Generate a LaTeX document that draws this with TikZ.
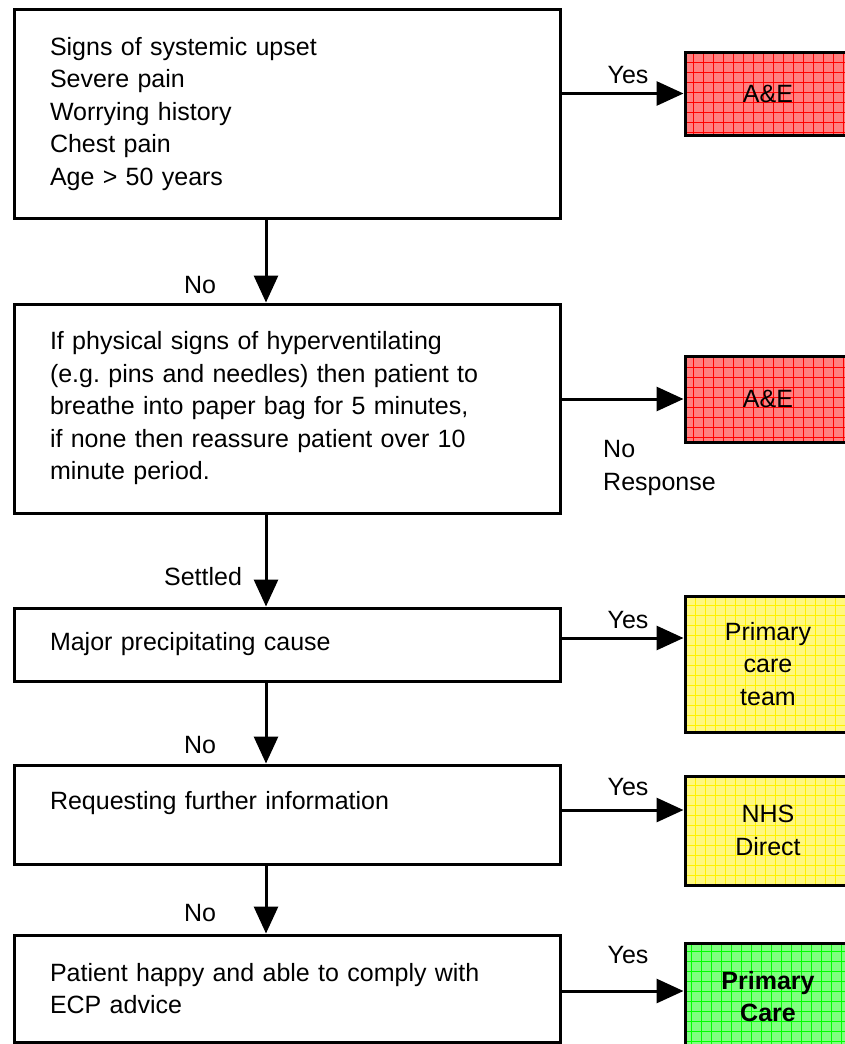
\documentclass[tikz,border=0pt]{standalone}
\usepackage{fontspec}
\setmainfont{Liberation Sans}
\usetikzlibrary{positioning, arrows.meta, calc}

\begin{document}
\begin{tikzpicture}[x=1pt, y=-1pt,
    every node/.style={font=\fontsize{25}{32.5}\selectfont},
    question/.style={rectangle, draw=black, line width=3pt, minimum width=546pt, text width=474pt, inner xsep=36pt, inner ysep=0pt, align=left},
    outcome/.style={rectangle, draw=black, line width=3pt, minimum width=166pt, inner sep=0pt, align=center, fill=#1!50,
        path picture={\draw[#1, line width=0.6pt, step=10pt] (path picture bounding box.south west) grid (path picture bounding box.north east);}},
    arrow/.style={line width=3pt, -{Triangle[length=27pt, width=24pt]}},
    lbl/.style={inner sep=0pt}
]
    \clip (0,0) rectangle (845,1044);
    % questions
    \node[question, minimum height=209pt] (upset) at (287, 114) {Signs of systemic upset\\Severe pain\\Worrying history\\Chest pain\\Age > 50 years};
    \node[question, minimum height=209pt] (hyper) at (287, 408.5) {If physical signs of hyperventilating\\(e.g.\ pins and needles) then patient to\\breathe into paper bag for 5 minutes,\\if none then reassure patient over 10\\minute period.};
    \node[question, minimum height=73pt] (cause) at (287, 644.5) {Major precipitating cause};
    \node[question, minimum height=99pt, text height=18pt, text depth=29pt] (info) at (287, 814.5) {Requesting further information};
    \node[question, minimum height=107pt] (happy) at (287, 988.5) {Patient happy and able to comply with\\ECP advice};
    % outcomes
    \node[outcome=red, minimum height=83pt] (ae1) at (768, 93.5) {A\&E};
    \node[outcome=red, minimum height=86pt] (ae2) at (768, 399) {A\&E};
    \node[outcome=yellow, minimum height=136pt] (team) at (768, 664) {Primary\\care\\team};
    \node[outcome=yellow, minimum height=109pt] (nhs) at (768, 830.5) {NHS\\Direct};
    \node[outcome=green, minimum height=107pt, font=\fontsize{25}{32.5}\selectfont\bfseries] (care) at (768, 996.5) {Primary\\Care};
    % down the chain
    \draw[arrow] ([xshift=-21pt]upset.south) -- ([xshift=-21pt]hyper.north);
    \node[lbl] (no1) at (200, 285) {No};
    \draw[arrow] ([xshift=-21pt]hyper.south) -- ([xshift=-21pt]cause.north);
    \node[lbl] (settled) at (203, 577) {Settled};
    \draw[arrow] ([xshift=-21pt]cause.south) -- ([xshift=-21pt]info.north);
    \node[lbl] (no2) at (200, 745) {No};
    \draw[arrow] ([xshift=-21pt]info.south) -- ([xshift=-21pt]happy.north);
    \node[lbl] (no3) at (200, 913) {No};
    % across to the outcomes
    \draw[arrow] (ae1.west -| upset.east) -- (ae1.west);
    \node[lbl] (yes1) at (628, 75) {Yes};
    \draw[arrow] (ae2.west -| hyper.east) -- (ae2.west);
    \node[lbl, anchor=west, align=left] (noresp) at (603, 468) {No\\Response};
    \draw[arrow] ([yshift=6.5pt]cause.east) -- ([yshift=6.5pt]cause.east -| team.west);
    \node[lbl] (yes2) at (628, 620) {Yes};
    \draw[arrow] ([yshift=4.5pt]info.east) -- ([yshift=4.5pt]info.east -| nhs.west);
    \node[lbl] (yes3) at (628, 787) {Yes};
    \draw[arrow] ([yshift=-2.5pt]happy.east) -- ([yshift=-2.5pt]happy.east -| care.west);
    \node[lbl] (yes4) at (628, 955) {Yes};
\end{tikzpicture}
\end{document}
